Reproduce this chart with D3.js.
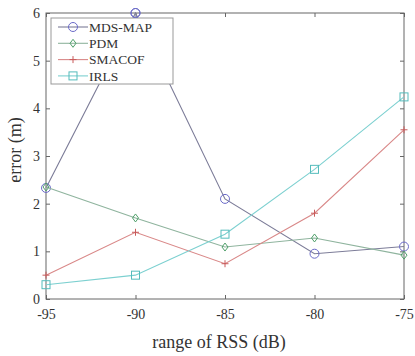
<!DOCTYPE html>
<html>
<head>
<meta charset="utf-8">
<script src="https://cdn.jsdelivr.net/npm/d3@7"></script>
<style>
  body { margin: 0; background: #fff; }
  text { font-family: "Liberation Serif", "DejaVu Serif", serif; fill: #333; }
</style>
</head>
<body>
<div id="chart"></div>
<script>
// data
var rss = [-95, -90, -85, -80, -75];
var mdsMap = [2.33, 6.0, 2.1, 0.95, 1.1];
var pdm = [2.35, 1.7, 1.09, 1.28, 0.92];
var smacof = [0.5, 1.4, 0.74, 1.8, 3.55];
var irls = [0.3, 0.5, 1.36, 2.72, 4.24];
var xTicks = [-95, -90, -85, -80, -75];
var yTicks = [0, 1, 2, 3, 4, 5, 6];

var series = [
  { name: "MDS-MAP", values: mdsMap, line: "#7c7c98", mark: "#6a6ac8", shape: "circle" },
  { name: "PDM", values: pdm, line: "#8fb49e", mark: "#4fa06a", shape: "diamond" },
  { name: "SMACOF", values: smacof, line: "#d98888", mark: "#c85a5a", shape: "plus" },
  { name: "IRLS", values: irls, line: "#7cd0d0", mark: "#55bcbc", shape: "square" }
];

var W = 415, H = 356;
var padL = 46, padR = 404, padT = 13, padB = 299;

var svg = d3.select("#chart").append("svg")
  .attr("width", W).attr("height", H);

var x = d3.scaleLinear().domain([-95, -75]).range([padL, padR]);
var y = d3.scaleLinear().domain([0, 6]).range([padB, padT]);

// plain hyphen like the original, not the unicode minus
var fmt = function(d) { return String(d); };

// axes with inward ticks on all four sides
var axisColor = "#666";
function styleAxis(g) {
  g.select(".domain").remove();
  g.selectAll("line").attr("stroke", axisColor);
  g.selectAll("text").style("font-size", "14px").attr("fill", "#333");
}
svg.append("g").attr("transform", "translate(0," + padB + ")")
  .call(d3.axisBottom(x).tickValues(xTicks).tickSize(-4).tickPadding(10).tickFormat(fmt))
  .call(styleAxis);
svg.append("g").attr("transform", "translate(0," + padT + ")")
  .call(d3.axisTop(x).tickValues(xTicks).tickSize(-4).tickFormat(""))
  .call(styleAxis);
svg.append("g").attr("transform", "translate(" + padL + ",0)")
  .call(d3.axisLeft(y).tickValues(yTicks).tickSize(-4).tickPadding(6).tickFormat(fmt))
  .call(styleAxis);
svg.append("g").attr("transform", "translate(" + padR + ",0)")
  .call(d3.axisRight(y).tickValues(yTicks).tickSize(-4).tickFormat(""))
  .call(styleAxis);

svg.append("rect")
  .attr("x", padL).attr("y", padT)
  .attr("width", padR - padL).attr("height", padB - padT)
  .attr("fill", "none").attr("stroke", axisColor).attr("stroke-width", 1);

var line = d3.line()
  .x(function(d, i) { return x(rss[i]); })
  .y(function(d) { return y(d); });

function drawMarker(g, shape, cx, cy, color) {
  if (shape == "circle") {
    g.append("circle").attr("cx", cx).attr("cy", cy).attr("r", 4.5)
      .attr("fill", "none").attr("stroke", color);
  } else if (shape == "square") {
    g.append("rect").attr("x", cx - 4).attr("y", cy - 4).attr("width", 8).attr("height", 8)
      .attr("fill", "none").attr("stroke", color);
  } else if (shape == "diamond") {
    g.append("path").attr("d", "M" + cx + "," + (cy - 4) + "L" + (cx + 3) + "," + cy + "L" + cx + "," + (cy + 4) + "L" + (cx - 3) + "," + cy + "Z")
      .attr("fill", "none").attr("stroke", color);
  } else {
    g.append("path").attr("d", "M" + (cx - 3.5) + "," + cy + "H" + (cx + 3.5) + "M" + cx + "," + (cy - 3.5) + "V" + (cy + 3.5))
      .attr("fill", "none").attr("stroke", color);
  }
}

series.forEach(function(s) {
  var g = svg.append("g");
  g.append("path").datum(s.values)
    .attr("d", line)
    .attr("fill", "none")
    .attr("stroke", s.line)
    .attr("stroke-width", 1.1);
  s.values.forEach(function(v, i) {
    drawMarker(g, s.shape, x(rss[i]), y(v), s.mark);
  });
});

// legend, drawn over the lines like the original
var lg = svg.append("g");
lg.append("rect").attr("x", 51).attr("y", 18).attr("width", 122).attr("height", 66)
  .attr("fill", "#fff").attr("stroke", "#999");
series.forEach(function(s, i) {
  var ly = 27 + i * 16.3;
  lg.append("line").attr("x1", 58).attr("x2", 88).attr("y1", ly).attr("y2", ly)
    .attr("stroke", s.line).attr("stroke-width", 1.1);
  drawMarker(lg, s.shape, 73, ly, s.mark);
  lg.append("text").attr("x", 89).attr("y", ly + 4.8)
    .style("font-size", "13.5px").text(s.name);
});
// the top marker of MDS-MAP sits above the legend frame
drawMarker(svg, "circle", x(rss[1]), y(mdsMap[1]), series[0].mark);

// axis titles
svg.append("text")
  .attr("x", 219).attr("y", 348)
  .attr("text-anchor", "middle").style("font-size", "18px")
  .text("range of RSS (dB)");
svg.append("text")
  .attr("transform", "translate(21,150) rotate(-90)")
  .attr("text-anchor", "middle").style("font-size", "18px")
  .text("error (m)");
</script>
</body>
</html>
